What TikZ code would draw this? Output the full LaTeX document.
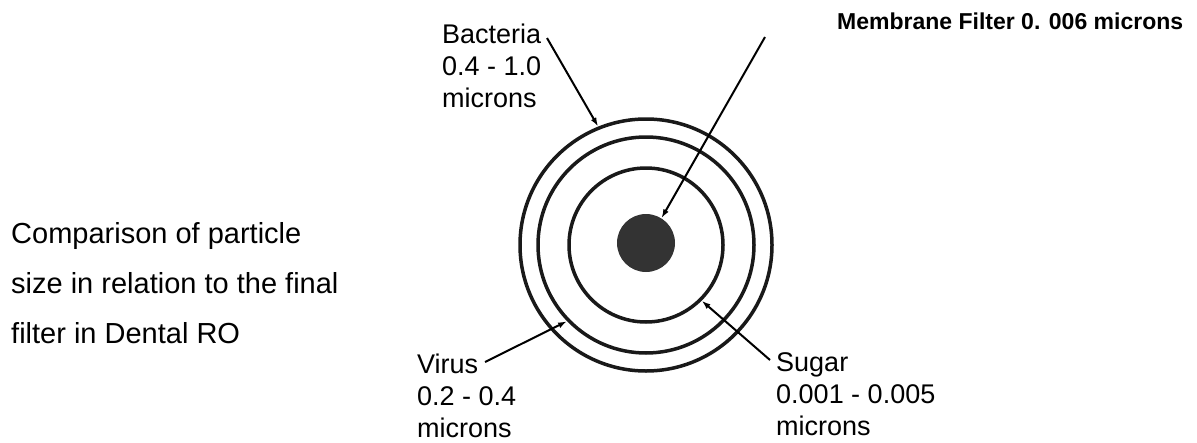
\documentclass[tikz,border=0pt]{standalone}
\usepackage{fontspec}
\setmainfont{Liberation Sans}
\usetikzlibrary{arrows.meta}

\begin{document}
\begin{tikzpicture}
    [x=1pt, y=-1pt,
    ring/.style={draw=black!90, circle, line width=3.5pt, inner sep=0pt},
    pointer/.style={line width=2pt, -{Latex[length=9pt, width=6pt]}},
    sizetext/.style={anchor=north west, inner sep=0pt, align=left, font={\fontsize{27}{32}\selectfont}}]
        \useasboundingbox (0,0) rectangle (1197,442);

        %% Rings and filter
        \node[ring, minimum size=252pt] (outer) at (646,245) {};
        \node[ring, minimum size=216pt] (middle) at (646,245) {};
        \node[ring, minimum size=154pt] (inner) at (646,245) {};
        \node[circle, fill=black!80, inner sep=0pt, minimum size=58pt] (dot) at (646,243) {};

        %% Labels
        \node[sizetext] (bacteria) at (442,23.5) {Bacteria\\0.4 - 1.0\\microns};
        \node[sizetext] (virus) at (417,353.5) {Virus\\0.2 - 0.4\\microns};
        \node[sizetext] (sugar) at (776,352) {Sugar\\0.001 - 0.005\\microns};
        \node[anchor=north west, inner sep=0pt, font={\bfseries\fontsize{23}{27}\selectfont}] (membrane) at (837,12.5) {Membrane Filter 0. 006 microns};
        \node[anchor=north west, inner sep=0pt, align=left, font={\fontsize{29}{50}\selectfont}] (caption) at (11,222) {Comparison of particle\\size in relation to the final\\filter in Dental RO};

        %% Pointers
        \coordinate (bacteria-tail) at (547,38);
        \coordinate (membrane-tail) at (765,37);
        \coordinate (virus-tail) at (485,362);
        \coordinate (sugar-tail) at (770,360);

        \draw[pointer] (bacteria-tail) -- (outer.112);
        \draw[pointer] (membrane-tail) -- (dot.58);
        \draw[pointer] (virus-tail) -- (middle.224);
        \draw[pointer] (sugar-tail) -- (inner.-45);
    \end{tikzpicture}
\end{document}
